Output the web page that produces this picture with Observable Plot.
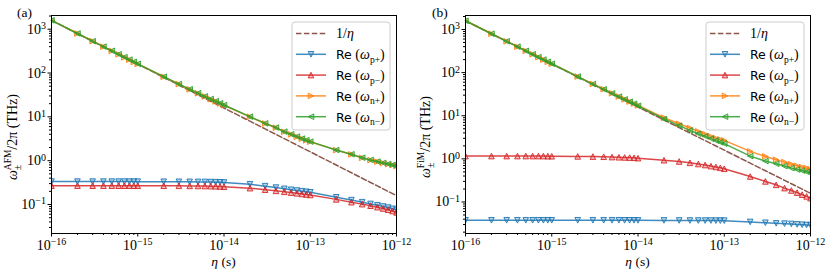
<!DOCTYPE html>
<html>
<head>
<meta charset="utf-8">
<script src="https://cdn.jsdelivr.net/npm/d3@7"></script>
<script src="https://cdn.jsdelivr.net/npm/@observablehq/plot@0.6"></script>
<style>
  html, body { margin: 0; padding: 0; background: #fff; }
  #wrap { position: relative; width: 830px; height: 272px; display: flex; }
  #wrap > svg { flex: none; }
</style>
</head>
<body>
<div id="wrap"></div>
<script>
// ---------- data ----------
const eta = [
  1e-16, 2e-16, 3e-16, 4e-16, 5e-16, 6e-16, 7e-16, 8e-16, 9e-16,
  1e-15, 2e-15, 3e-15, 4e-15, 5e-15, 6e-15, 7e-15, 8e-15, 9e-15,
  1e-14, 2e-14, 3e-14, 4e-14, 5e-14, 6e-14, 7e-14, 8e-14, 9e-14,
  1e-13, 2e-13, 3e-13, 4e-13, 5e-13, 6e-13, 7e-13, 8e-13, 9e-13,
  1e-12
];
const invEta = [
  1591.5, 795.8, 530.5, 397.9, 318.3, 265.3, 227.4, 198.9, 176.8,
  159.2, 79.58, 53.05, 39.79, 31.83, 26.53, 22.74, 19.89, 17.68,
  15.92, 7.958, 5.305, 3.979, 3.183, 2.653, 2.274, 1.989, 1.768,
  1.592, 0.7958, 0.5305, 0.3979, 0.3183, 0.2653, 0.2274, 0.1989, 0.1768,
  0.1592
];
// (a) AFM
const afmPplus = [
  0.333, 0.333, 0.333, 0.333, 0.333, 0.333, 0.333, 0.333, 0.333,
  0.332, 0.331, 0.330, 0.329, 0.328, 0.327, 0.325, 0.323, 0.321,
  0.318, 0.290, 0.262, 0.243, 0.228, 0.217, 0.208, 0.201, 0.195,
  0.190, 0.146, 0.126, 0.113, 0.103, 0.096, 0.090, 0.085, 0.080,
  0.076
];
const afmPminus = [
  0.269, 0.269, 0.269, 0.269, 0.269, 0.269, 0.269, 0.269, 0.269,
  0.268, 0.268, 0.267, 0.266, 0.265, 0.264, 0.262, 0.260, 0.258,
  0.255, 0.236, 0.218, 0.205, 0.195, 0.187, 0.180, 0.174, 0.169,
  0.165, 0.131, 0.113, 0.102, 0.094, 0.087, 0.081, 0.076, 0.071,
  0.066
];
const afmNplus = [
  1594, 797, 532, 399, 320, 267, 229, 201, 179,
  161.5, 82.2, 55.8, 42.5, 34.5, 29.2, 25.3, 22.5, 20.2,
  18.4, 10.0, 7.05, 5.65, 4.57, 3.97, 3.52, 3.17, 2.91,
  2.70, 1.74, 1.39, 1.16, 1.03, 0.95, 0.885, 0.835, 0.795,
  0.755
];
const afmNminus = [
  1595, 798, 533, 400, 321, 268, 230, 202, 180,
  162, 82.5, 56.0, 42.7, 34.7, 29.4, 25.5, 22.7, 20.4,
  18.6, 10.1, 7.1, 5.7, 4.6, 4.0, 3.55, 3.19, 2.93,
  2.72, 1.75, 1.40, 1.17, 1.04, 0.955, 0.89, 0.84, 0.80,
  0.76
];
// (b) FiM
const fimPplus = [
  0.0377, 0.0377, 0.0377, 0.0377, 0.0377, 0.0377, 0.0377, 0.0377, 0.0377,
  0.0377, 0.0377, 0.0377, 0.0377, 0.0377, 0.0377, 0.0376, 0.0376, 0.0376,
  0.0375, 0.0374, 0.0373, 0.0372, 0.0372, 0.0371, 0.0371, 0.0370, 0.0370,
  0.0369, 0.0345, 0.0330, 0.0320, 0.0315, 0.0310, 0.0302, 0.0297, 0.0293,
  0.0290
];
const fimPminus = [
  1.16, 1.16, 1.16, 1.16, 1.16, 1.16, 1.16, 1.16, 1.155,
  1.15, 1.14, 1.13, 1.12, 1.10, 1.09, 1.08, 1.07, 1.06,
  1.04, 0.93, 0.87, 0.81, 0.76, 0.72, 0.68, 0.65, 0.62,
  0.59, 0.39, 0.30, 0.25, 0.21, 0.185, 0.165, 0.148, 0.135,
  0.123
];
const fimNplus = [
  1592.5, 797, 532, 399, 319.5, 266.5, 228.6, 200, 178,
  160.5, 81.0, 54.5, 41.2, 33.2, 27.9, 24.1, 21.3, 19.1,
  17.3, 9.0, 6.5, 5.2, 4.33, 3.75, 3.33, 3.0, 2.82,
  2.68, 1.49, 1.14, 0.955, 0.84, 0.75, 0.69, 0.645, 0.61,
  0.58
];
const fimNminus = [
  1592.5, 797, 532, 399, 319.5, 266.5, 228.6, 200, 178,
  160.3, 80.8, 54.3, 41.0, 33.0, 27.7, 23.9, 21.1, 18.9,
  17.0, 8.4, 5.9, 4.57, 3.83, 3.35, 2.95, 2.65, 2.42,
  2.25, 1.16, 0.89, 0.77, 0.68, 0.61, 0.565, 0.53, 0.50,
  0.475
];
const xMajor = [1e-16, 1e-15, 1e-14, 1e-13, 1e-12];
const yMajor = [1e-1, 1e0, 1e1, 1e2, 1e3];
const seriesNames = ["p+", "p\u2212", "n+", "n\u2212"];

// ---------- styling ----------
const SERIF = "'Liberation Serif', 'DejaVu Serif', serif";
const SANS = "'DejaVu Sans', sans-serif";
const C = { brown: "#8c564b", blue: "#1f77b4", red: "#d62728", orange: "#ff7f0e", green: "#2ca02c" };

function tri(points) {
  return { draw(ctx, size) {
    const r = Math.sqrt(size / Math.PI);
    ctx.moveTo(points[0][0] * r, points[0][1] * r);
    for (let i = 1; i < points.length; i++) ctx.lineTo(points[i][0] * r, points[i][1] * r);
    ctx.closePath();
  }};
}
const symDown = tri([[0, 1], [-1, -1], [1, -1]]);
const symUp = tri([[0, -1], [-1, 1], [1, 1]]);
const symRight = tri([[1, 0], [-1, -1], [-1, 1]]);
const symLeft = tri([[-1, 0], [1, -1], [1, 1]]);

function minorTicks(lo, hi) {
  const out = [];
  for (let e = lo; e < hi; e++) for (let k = 2; k <= 9; k++) out.push(k * Math.pow(10, e));
  return out;
}

function panel({ vals, yDomain, mL, mR, sup, yLabelX, tag }) {
  const table = eta.map((x, i) => ({
    x, inv: invEta[i], pp: vals[0][i], pm: vals[1][i], np: vals[2][i], nm: vals[3][i]
  }));
  const series = [
    { key: "pp", color: C.blue, sym: symDown },
    { key: "pm", color: C.red, sym: symUp },
    { key: "np", color: C.orange, sym: symRight },
    { key: "nm", color: C.green, sym: symLeft }
  ];
  const marks = [
    Plot.line(table, { x: "x", y: "inv", stroke: C.brown, strokeWidth: 1.5, strokeDasharray: "5.5,2.4" })
  ];
  for (const s of series) {
    marks.push(Plot.line(table, { x: "x", y: s.key, stroke: s.color, strokeWidth: 1.5, strokeOpacity: 0.85 }));
    marks.push(Plot.dot(table, { x: "x", y: s.key, symbol: s.sym, r: 2.8, stroke: s.color, strokeWidth: 0.9,
      fill: s.color, fillOpacity: 0.3, clip: true }));
  }
  marks.push(
    Plot.axisX({ ticks: minorTicks(-16, -12), tickSize: 2, tickFormat: () => "", label: null }),
    Plot.axisX({ ticks: xMajor, tickSize: 3.5, tickPadding: 3, label: null,
      tickFormat: d => String(Math.round(Math.log10(d))) }),
    Plot.axisY({ ticks: minorTicks(-2, 4).filter(v => v > yDomain[0] && v < yDomain[1]), tickSize: 2, tickFormat: () => "", label: null }),
    Plot.axisY({ ticks: yMajor, tickSize: 3.5, tickPadding: 2, label: null,
      tickFormat: d => String(Math.round(Math.log10(d))) }),
    Plot.frame({ stroke: "black", strokeWidth: 1 })
  );
  const svg = Plot.plot({
    width: 415, height: 272,
    marginLeft: mL, marginRight: mR, marginTop: 15, marginBottom: 39,
    x: { type: "log", domain: [1e-16, 1e-12] },
    y: { type: "log", domain: yDomain },
    style: { fontFamily: SERIF, fontSize: "14px", background: "white", color: "black", overflow: "visible" },
    marks
  });
  const root = d3.select(svg);
  // power-of-ten tick labels
  root.selectAll('g[aria-label="x-axis tick label"] text, g[aria-label="y-axis tick label"] text').each(function () {
    const t = this.textContent;
    if (!t) return;
    const el = d3.select(this);
    el.text(null);
    el.append("tspan").text("10");
    el.append("tspan").attr("dy", "-0.45em").attr("font-size", "10px").text(t.replace("-", "\u2212"));
  });
  root.selectAll('g[aria-label="x-axis tick label"], g[aria-label="y-axis tick label"]').attr("font-size", "14px");

  const fx = mL, fr = 415 - mR;
  // panel tag
  root.append("text").attr("x", tag.x).attr("y", 17).attr("text-anchor", "start")
    .attr("font-family", SERIF).attr("font-size", 13.5).text(tag.t);
  // x label
  const xl = root.append("text").attr("x", (fx + fr) / 2).attr("y", 266).attr("text-anchor", "middle")
    .attr("font-family", SERIF).attr("font-size", 13.5);
  xl.append("tspan").attr("font-style", "italic").text("\u03b7");
  xl.append("tspan").text(" (s)");
  // y label
  const yl = root.append("text").attr("transform", `translate(${yLabelX},137) rotate(-90)`)
    .attr("text-anchor", "middle").attr("font-family", SERIF).attr("font-size", 14);
  yl.append("tspan").attr("font-style", "italic").text("\u03c9");
  yl.append("tspan").attr("dy", 4).attr("font-size", 10).text("\u00b1");
  yl.append("tspan").attr("dx", -5.6).attr("dy", -10).attr("font-size", 9.5).text(sup);
  yl.append("tspan").attr("dy", 6).text("/2\u03c0 (THz)");

  // legend
  const lw = 98, lh = 108, lx = fr - 6 - lw, ly = 22;
  const lg = root.append("g").attr("text-anchor", "start");
  lg.append("rect").attr("x", lx).attr("y", ly).attr("width", lw).attr("height", lh).attr("rx", 3)
    .attr("fill", "white").attr("fill-opacity", 0.85).attr("stroke", "#cccccc");
  const entries = [
    { color: C.brown, dash: "5.5,2.4", sym: null, label: "inv" },
    { color: C.blue, sym: symDown, label: seriesNames[0] },
    { color: C.red, sym: symUp, label: seriesNames[1] },
    { color: C.orange, sym: symRight, label: seriesNames[2] },
    { color: C.green, sym: symLeft, label: seriesNames[3] }
  ];
  entries.forEach((e, i) => {
    const y = ly + 11.5 + i * 20.8;
    const x0 = lx + 4, x1 = lx + 34;
    lg.append("line").attr("x1", x0).attr("x2", x1).attr("y1", y).attr("y2", y)
      .attr("stroke", e.color).attr("stroke-width", 1.5).attr("stroke-dasharray", e.dash || null)
      .attr("stroke-opacity", e.dash ? 1 : 0.85);
    if (e.sym) {
      lg.append("path").attr("d", d3.symbol(e.sym, Math.PI * 2.8 * 2.8)())
        .attr("transform", `translate(${(x0 + x1) / 2},${y})`)
        .attr("fill", e.color).attr("fill-opacity", 0.3).attr("stroke", e.color).attr("stroke-width", 0.9);
    }
    const tx = lg.append("text").attr("x", lx + 44).attr("y", y).attr("dy", "0.35em")
      .attr("font-family", SERIF).attr("font-size", 14);
    if (e.label === "inv") {
      tx.append("tspan").text("1/");
      tx.append("tspan").attr("font-style", "italic").text("\u03b7");
    } else {
      tx.append("tspan").attr("font-family", SANS).attr("font-size", 12.5).text("Re");
      tx.append("tspan").text(" (");
      tx.append("tspan").attr("font-style", "italic").text("\u03c9");
      tx.append("tspan").attr("dy", 3.5).attr("font-size", 9.5).text(e.label);
      tx.append("tspan").attr("dy", -3.5).text(")");
    }
  });
  return svg;
}

const wrap = document.getElementById("wrap");
wrap.appendChild(panel({
  vals: [afmPplus, afmPminus, afmNplus, afmNminus],
  yDomain: [0.0218, 2054], mL: 51, mR: 19, sup: "AFM", yLabelX: 17, tag: { x: 17, t: "(a)" }
}));
wrap.appendChild(panel({
  vals: [fimPplus, fimPminus, fimNplus, fimNminus],
  yDomain: [0.0186, 2110], mL: 50, mR: 20, sup: "FiM", yLabelX: 15, tag: { x: 17, t: "(b)" }
}));
</script>
</body>
</html>
